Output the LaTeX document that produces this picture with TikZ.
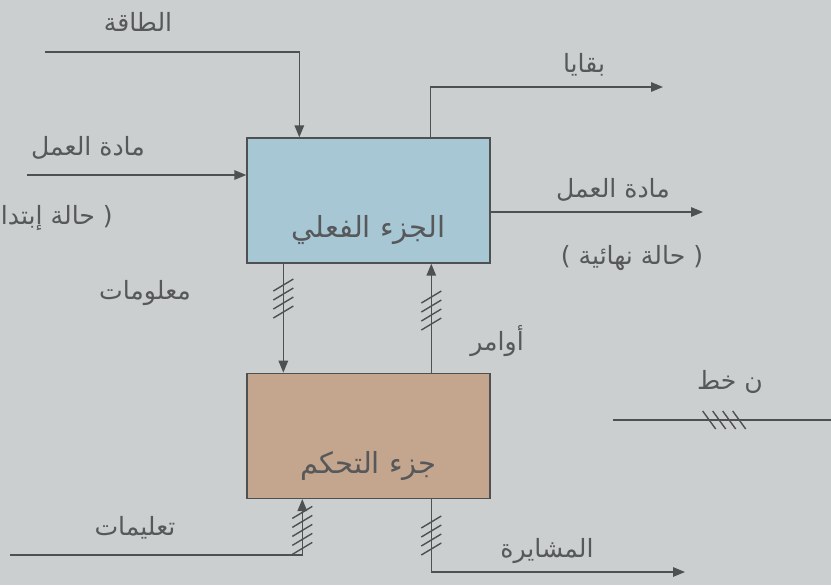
\documentclass[tikz,border=0pt]{standalone}
\usepackage{fontspec}
\setmainfont{DejaVu Sans}
\newfontfamily\arabicfont[Script=Arabic]{DejaVu Sans}
\TeXXeTstate=1
\usepackage{tikz}
\usetikzlibrary{arrows.meta,positioning}
\usepackage{xcolor}
\definecolor{bgpaper}{RGB}{203,207,208}
\definecolor{actblue}{RGB}{167,199,212}
\definecolor{ctlbrown}{RGB}{196,165,142}
\definecolor{inkgrey}{RGB}{78,80,82}
\definecolor{txtgrey}{RGB}{86,88,90}
\tikzstyle{part} = [rectangle, minimum width=4.86cm, minimum height=2.5cm, inner sep=0.25cm, text height=1.75cm, text depth=0.25cm, text centered, draw=inkgrey, thick, text=txtgrey, font=\arabicfont\fontsize{16.5}{19}\selectfont]
\tikzstyle{flow} = [thick,->,>={Triangle[length=0.24cm,width=0.19cm]},color=inkgrey]
\tikzstyle{lbl} = [text=txtgrey, font=\arabicfont\fontsize{14.3}{17}\selectfont]
\newcommand{\artxt}[1]{\beginR #1\endR}
\newcommand{\parenl}{{\rmfamily(}}
\newcommand{\parenr}{{\rmfamily)}}
% slanted ticks across a bus line
\newcommand{\vhatch}[2]{\foreach \k in {1,...,#2}
  \draw[inkgrey, thick] ([yshift={(\k-(#2+1)/2)*0.18cm}]#1) ++(-0.2cm,-0.12cm) -- ++(0.4cm,0.24cm);}
\newcommand{\hhatch}[2]{\foreach \k in {1,...,#2}
  \draw[inkgrey, thick] ([xshift={(\k-(#2+1)/2)*0.2cm}]#1) ++(-0.13cm,0.18cm) -- ++(0.26cm,-0.36cm);}

\begin{document}
\begin{tikzpicture}[x=0.02cm, y=-0.02cm]
\useasboundingbox (0,0) rectangle (831,585);
\fill[bgpaper] (0,0) rectangle (831,585);

% the two parts
\node[part, fill=actblue] (act) at (368.5,200.5) {\artxt{الجزء الفعلي}};
\node[part, fill=ctlbrown, below=2.18cm of act] (ctl) {\artxt{جزء التحكم}};

% free ends
\coordinate (e0) at (45,52);
\coordinate (mi) at (27,175);
\coordinate (wo) at (663,87);
\coordinate (mo) at (703,212);
\coordinate (i0) at (10,555);
\coordinate (so) at (685,572);
\coordinate (l0) at (613,420);
\coordinate (l1) at (831,420);

% flows of the operative part
\draw[flow] (e0) -| ([xshift=1.06cm]act.north west);
\draw[flow] (mi) -- (mi -| act.west);
\draw[flow] ([xshift=-1.2cm]act.north east) |- (wo);
\draw[flow] (act.east |- mo) -- (mo);

% buses between the parts
\draw[flow] ([xshift=0.74cm]act.south west) -- coordinate[pos=0.32] (hinfo) ([xshift=0.74cm]ctl.north west);
\draw[flow] ([xshift=3.7cm]ctl.north west) -- coordinate[pos=0.57] (hcmd) ([xshift=3.7cm]act.south west);
\draw[flow] (i0) -| coordinate[pos=0.72] (hins) ([xshift=1.12cm]ctl.south west);
\draw[flow] ([xshift=3.7cm]ctl.south west) |- coordinate[pos=0.25] (hsig) (so);
\vhatch{hinfo}{4}
\vhatch{hcmd}{4}
\vhatch{hins}{5}
\vhatch{hsig}{4}

% key: n lines
\draw[inkgrey, thick] (l0) -- coordinate[pos=0.51] (hleg) (l1);
\hhatch{hleg}{4}

% labels
\node[lbl] (energy) at (138,22) {\artxt{الطاقة}};
\node[lbl] (matin) at (88,148) {\artxt{مادة العمل}};
\node[lbl, anchor=east] (start) at (119,218) {\parenl\ \artxt{حالة إبتدائية} \parenr};
\node[lbl] (info) at (145,293) {\artxt{معلومات}};
\node[lbl] (cmd) at (497,341) {\artxt{أوامر}};
\node[lbl] (waste) at (584,65) {\artxt{بقايا}};
\node[lbl] (matout) at (613,190) {\artxt{مادة العمل}};
\node[lbl] (final) at (632,258) {\parenl\ \artxt{حالة نهائية} \parenr};
\node[lbl] (nline) at (730,382) {\artxt{ن خط}};
\node[lbl] (instr) at (135,528) {\artxt{تعليمات}};
\node[lbl] (sig) at (547,551) {\artxt{المشايرة}};
\end{tikzpicture}
\end{document}
